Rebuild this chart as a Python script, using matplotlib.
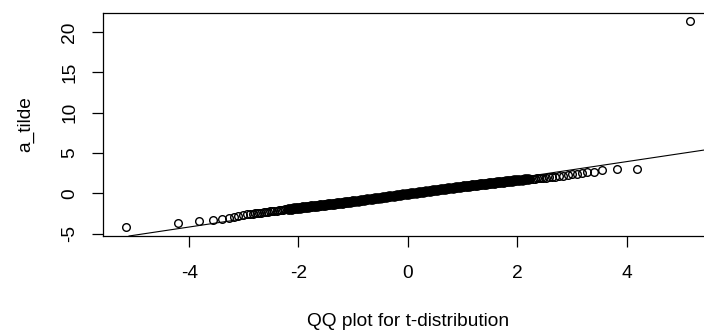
import matplotlib
matplotlib.use("Agg")
import matplotlib.pyplot as plt

plt.rcParams['font.family'] = ['Liberation Sans', 'DejaVu Sans']

# ---- data (theoretical t quantiles vs sample a_tilde) ----
left_tail_x = [-5.16, -4.20, -3.82, -3.56, -3.40, -3.28, -3.18, -3.10, -3.02, -2.94]
left_tail_y = [-4.24, -3.69, -3.49, -3.28, -3.16, -3.04, -2.91, -2.79, -2.66, -2.58]

band_a_x = [-2.88, -2.84, -2.80, -2.76, -2.72, -2.68, -2.64, -2.60, -2.56, -2.52,
            -2.48, -2.44, -2.40, -2.36, -2.32, -2.28, -2.24]
band_a_y = [-2.56, -2.53, -2.49, -2.46, -2.42, -2.39, -2.35, -2.32, -2.28, -2.25,
            -2.21, -2.18, -2.14, -2.11, -2.08, -2.04, -2.00]

band_b_x = [-2.20, -2.17, -2.14, -2.11, -2.08, -2.05, -2.02, -1.99, -1.96, -1.93,
            -1.90, -1.87, -1.84, -1.81, -1.78, -1.75, -1.72, -1.69, -1.66, -1.63,
            -1.60, -1.57, -1.54, -1.51, -1.48, -1.45, -1.42, -1.39, -1.36, -1.33,
            -1.30, -1.27, -1.24, -1.21, -1.18, -1.15, -1.12, -1.09, -1.06, -1.03]
band_b_y = [-1.97, -1.95, -1.92, -1.90, -1.87, -1.85, -1.82, -1.80, -1.78, -1.75,
            -1.73, -1.70, -1.68, -1.65, -1.63, -1.61, -1.58, -1.56, -1.53, -1.51,
            -1.49, -1.46, -1.44, -1.41, -1.39, -1.36, -1.34, -1.32, -1.29, -1.27,
            -1.24, -1.22, -1.19, -1.17, -1.15, -1.12, -1.10, -1.07, -1.05, -1.02]

band_b2_x = [-2.185, -2.155, -2.125, -2.095, -2.065, -2.035, -2.005, -1.975, -1.945, -1.915,
             -1.885, -1.855, -1.825, -1.795, -1.765, -1.735, -1.705, -1.675, -1.645, -1.615,
             -1.585, -1.555, -1.525, -1.495, -1.465, -1.435, -1.405, -1.375, -1.345, -1.315,
             -1.285, -1.255, -1.225, -1.195, -1.165, -1.135, -1.105, -1.075, -1.045, -1.015]
band_b2_y = [-1.96, -1.93, -1.91, -1.88, -1.86, -1.84, -1.81, -1.79, -1.76, -1.74,
             -1.72, -1.69, -1.67, -1.64, -1.62, -1.59, -1.57, -1.55, -1.52, -1.50,
             -1.47, -1.45, -1.43, -1.40, -1.38, -1.35, -1.33, -1.30, -1.28, -1.26,
             -1.23, -1.21, -1.18, -1.16, -1.14, -1.11, -1.09, -1.06, -1.04, -1.01]

band_c_x = [-1.00, -0.98, -0.96, -0.94, -0.92, -0.90, -0.88, -0.86, -0.84, -0.82,
            -0.80, -0.78, -0.76, -0.74, -0.72, -0.70, -0.68, -0.66, -0.64, -0.62,
            -0.60, -0.58, -0.56, -0.54, -0.52, -0.50, -0.48, -0.46, -0.44, -0.42,
            -0.40, -0.38, -0.36, -0.34, -0.32, -0.30, -0.28, -0.26, -0.24, -0.22,
            -0.20, -0.18, -0.16, -0.14, -0.12, -0.10, -0.08, -0.06, -0.04, -0.02]
band_c_y = [-1.00, -0.98, -0.96, -0.94, -0.92, -0.90, -0.89, -0.87, -0.85, -0.83,
            -0.81, -0.79, -0.77, -0.75, -0.73, -0.72, -0.70, -0.68, -0.66, -0.64,
            -0.62, -0.60, -0.58, -0.56, -0.54, -0.53, -0.51, -0.49, -0.47, -0.45,
            -0.43, -0.41, -0.39, -0.37, -0.35, -0.34, -0.32, -0.30, -0.28, -0.26,
            -0.24, -0.22, -0.20, -0.18, -0.16, -0.15, -0.13, -0.11, -0.09, -0.07]

band_d_x = [0.00, 0.02, 0.04, 0.06, 0.08, 0.10, 0.12, 0.14, 0.16, 0.18,
            0.20, 0.22, 0.24, 0.26, 0.28, 0.30, 0.32, 0.34, 0.36, 0.38,
            0.40, 0.42, 0.44, 0.46, 0.48, 0.50, 0.52, 0.54, 0.56, 0.58,
            0.60, 0.62, 0.64, 0.66, 0.68, 0.70, 0.72, 0.74, 0.76, 0.78,
            0.80, 0.82, 0.84, 0.86, 0.88, 0.90, 0.92, 0.94, 0.96, 0.98]
band_d_y = [-0.05, -0.03, -0.01, 0.00, 0.02, 0.04, 0.06, 0.08, 0.09, 0.11,
            0.13, 0.15, 0.17, 0.18, 0.20, 0.22, 0.24, 0.26, 0.27, 0.29,
            0.31, 0.33, 0.35, 0.36, 0.38, 0.40, 0.42, 0.44, 0.45, 0.47,
            0.49, 0.51, 0.53, 0.54, 0.56, 0.58, 0.60, 0.62, 0.63, 0.65,
            0.67, 0.69, 0.71, 0.72, 0.74, 0.76, 0.78, 0.80, 0.81, 0.83]

band_e_x = [1.00, 1.03, 1.06, 1.09, 1.12, 1.15, 1.18, 1.21, 1.24, 1.27,
            1.30, 1.33, 1.36, 1.39, 1.42, 1.45, 1.48, 1.51, 1.54, 1.57,
            1.60, 1.63, 1.66, 1.69, 1.72, 1.75, 1.78, 1.81, 1.84, 1.87,
            1.90, 1.93, 1.96]
band_e_y = [0.85, 0.87, 0.90, 0.92, 0.95, 0.97, 0.99, 1.02, 1.04, 1.07,
            1.09, 1.11, 1.14, 1.16, 1.19, 1.21, 1.23, 1.26, 1.28, 1.31,
            1.33, 1.35, 1.38, 1.40, 1.43, 1.45, 1.47, 1.50, 1.52, 1.55,
            1.57, 1.59, 1.62]

band_e2_x = [1.015, 1.045, 1.075, 1.105, 1.135, 1.165, 1.195, 1.225, 1.255, 1.285,
             1.315, 1.345, 1.375, 1.405, 1.435, 1.465, 1.495, 1.525, 1.555, 1.585,
             1.615, 1.645, 1.675, 1.705, 1.735, 1.765, 1.795, 1.825, 1.855, 1.885,
             1.915, 1.945, 1.975]
band_e2_y = [0.86, 0.89, 0.91, 0.93, 0.96, 0.98, 1.01, 1.03, 1.05, 1.08,
             1.10, 1.13, 1.15, 1.17, 1.20, 1.22, 1.25, 1.27, 1.29, 1.32,
             1.34, 1.37, 1.39, 1.41, 1.44, 1.46, 1.49, 1.51, 1.53, 1.56,
             1.58, 1.61, 1.63]

band_f_x = [2.00, 2.02, 2.04, 2.06, 2.08, 2.10, 2.12, 2.14, 2.16, 2.18, 2.20, 2.22]
band_f_y = [1.64, 1.65, 1.66, 1.67, 1.69, 1.70, 1.71, 1.72, 1.73, 1.74, 1.76, 1.77]

band_g_x = [2.24, 2.28, 2.32, 2.36, 2.40, 2.44, 2.48, 2.52]
band_g_y = [1.78, 1.80, 1.83, 1.85, 1.87, 1.90, 1.92, 1.94]

right_tail_x = [2.58, 2.64, 2.70, 2.77, 2.84, 2.92, 3.01, 3.10, 3.18, 3.28,
                3.40, 3.56, 3.82, 4.20, 5.16]
right_tail_y = [1.97, 2.01, 2.05, 2.10, 2.16, 2.24, 2.33, 2.42, 2.50, 2.60,
                2.70, 2.83, 2.95, 3.04, 21.37]

# reference line through the quartile pairs (qqline)
qq_line_x = [-0.72, 0.72]
qq_line_y = [-0.86, 0.60]

x_ticks = [-4, -2, 0, 2, 4]
y_ticks = [-5, 0, 5, 10, 15, 20]
x_label = "QQ plot for t-distribution"
y_label = "a_tilde"

# sparse (individually visible) points and the dense, overlapping middle
sparse_x = left_tail_x + band_a_x + band_g_x + right_tail_x
sparse_y = left_tail_y + band_a_y + band_g_y + right_tail_y
dense_x = band_b_x + band_b2_x + band_c_x + band_d_x + band_e_x + band_e2_x + band_f_x
dense_y = band_b_y + band_b2_y + band_c_y + band_d_y + band_e_y + band_e2_y + band_f_y

W, H = 704, 335
fig = plt.figure(figsize=(W / 100, H / 100), dpi=100)
ax_left, ax_right, ax_top, ax_bot = 103.3, 712.4, 12.7, 236.0
ax = fig.add_axes([ax_left / W, 1 - ax_bot / H, (ax_right - ax_left) / W, (ax_bot - ax_top) / H])

# dense region: hundreds of overlapping open circles merge into a solid black band
ax.plot(dense_x, dense_y, linestyle='none', marker='o', markersize=6.6, markerfacecolor='black',
        markeredgecolor='black', markeredgewidth=0.6)
ax.plot(sparse_x, sparse_y, linestyle='none', marker='o', markersize=5.5, markerfacecolor='none',
        markeredgecolor='black', markeredgewidth=1.0)
ax.axline((qq_line_x[0], qq_line_y[0]), (qq_line_x[1], qq_line_y[1]), color='black', linewidth=0.8)

ax.set_xlim(-5.57, 5.57)
ax.set_ylim(-5.3, 22.4)
ax.set_xticks(x_ticks)
ax.set_yticks(y_ticks)
ax.set_xticklabels([str(v) for v in x_ticks])
ax.set_yticklabels([str(v) for v in y_ticks], rotation=90, va='center')

for s in ax.spines.values():
    s.set_linewidth(0.9)
    s.set_color('black')

fs = 13.8
ax.tick_params(axis='both', direction='out', length=8, width=0.9, labelsize=fs, colors='black')
ax.tick_params(axis='x', pad=13)
ax.tick_params(axis='y', pad=10)

cx = (ax_left + ax_right) / 2 / W
fig.text(cx, 1 - 322 / H, x_label, ha='center', va='center', fontsize=fs)
fig.text(26 / W, 1 - 124 / H, y_label, ha='center', va='center', rotation=90, fontsize=fs)

fig.savefig("out.png", dpi=100)
